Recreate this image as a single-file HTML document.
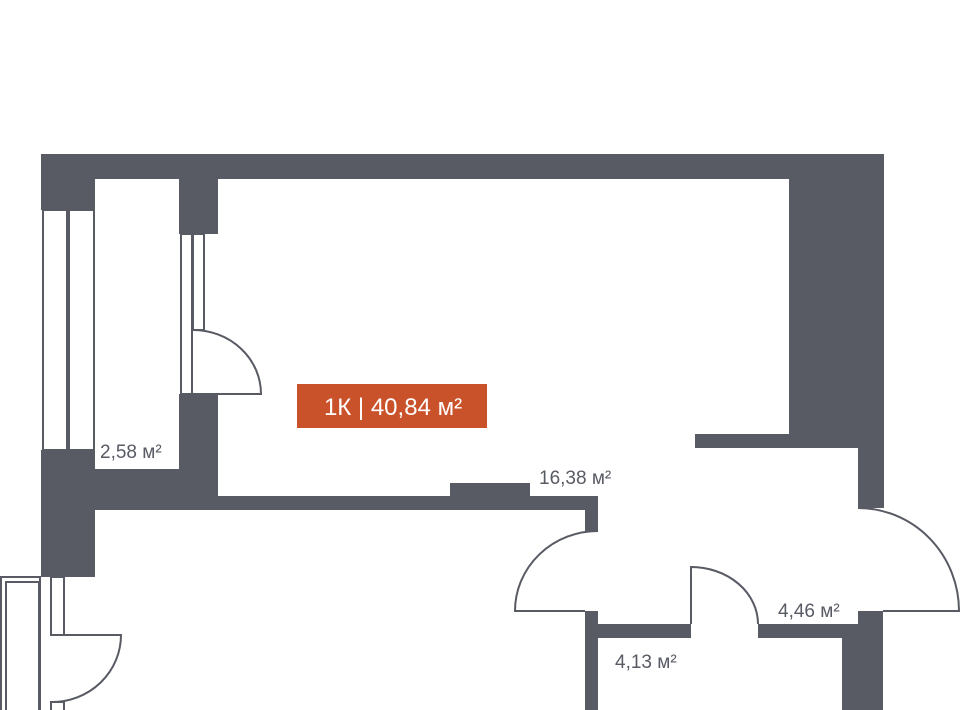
<!DOCTYPE html>
<html><head><meta charset="utf-8"><style>
html,body{margin:0;padding:0;background:#fff;width:960px;height:710px;overflow:hidden}
svg{display:block}
text{font-family:"Liberation Sans",sans-serif;fill:#585a64}
</style></head><body>
<svg width="960" height="710" viewBox="0 0 960 710" xmlns="http://www.w3.org/2000/svg">
<g fill="#585a64">
<rect x="41" y="154" width="843" height="25"/>
<rect x="41" y="154" width="54" height="56"/>
<rect x="41" y="450" width="54" height="127"/>
<rect x="179" y="154" width="39" height="80"/>
<rect x="179" y="394" width="39" height="116"/>
<rect x="95" y="469" width="123" height="41"/>
<rect x="218" y="496" width="380" height="14"/>
<rect x="450" y="483" width="80" height="13"/>
<rect x="585" y="496" width="13" height="35"/>
<rect x="789" y="154" width="95" height="280"/>
<rect x="695" y="434" width="189" height="14"/>
<rect x="858" y="434" width="26" height="74"/>
<rect x="585" y="611" width="13" height="99"/>
<rect x="598" y="624" width="93" height="14"/>
<rect x="758" y="624" width="100" height="14"/>
<rect x="858" y="611" width="25" height="99"/>
<rect x="842" y="624" width="41" height="86"/>
</g>
<g fill="none" stroke="#585a64" stroke-width="2">
<rect x="43" y="210" width="24" height="240"/>
<rect x="69" y="210" width="25" height="240"/>
<rect x="181" y="234" width="11" height="160"/>
<rect x="193" y="234" width="11" height="96"/>
<path d="M193 330 A68 64 0 0 1 261 394 L193 394"/>
<rect x="1" y="577" width="39" height="140"/>
<rect x="6" y="582" width="33" height="140"/>
<rect x="51" y="577" width="13" height="58"/>
<path d="M52 635 L121 635 A69 67 0 0 1 52 702"/>
<rect x="51" y="702" width="13" height="20"/>
<path d="M598 531 A83 80 0 0 0 515 611 L585 611"/>
<path d="M691 624 L691 567 A67 57 0 0 1 758 624"/>
<path d="M858 508 A101 103 0 0 1 959 611 L883 611"/>
</g>
<rect x="297" y="384" width="190" height="44" fill="#c9522a"/>
<text x="393" y="415" text-anchor="middle" font-size="24" style="fill:#fff">1К | 40,84 м²</text>
<text x="100" y="458" font-size="19">2,58 м²</text>
<text x="539" y="484" font-size="19">16,38 м²</text>
<text x="778" y="617" font-size="19">4,46 м²</text>
<text x="615" y="668" font-size="19">4,13 м²</text>
</svg>
</body></html>
